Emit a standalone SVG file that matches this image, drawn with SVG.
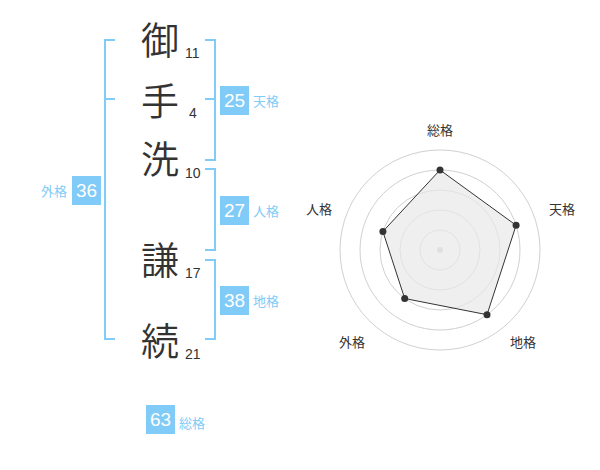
<svg xmlns="http://www.w3.org/2000/svg" width="600" height="470" viewBox="0 0 600 470">
<style>
.kanji{font-family:"Noto Sans CJK JP","Noto Sans CJK SC",sans-serif;font-size:38px;font-weight:350;fill:#333;text-anchor:middle}
.num{font-family:"Liberation Sans",Arial,sans-serif;font-size:14px;fill:#333}
.box{fill:#80cbf7}
.boxt{font-family:"Liberation Sans",Arial,sans-serif;font-size:19px;fill:#fff;text-anchor:middle}
.lab{font-family:"Noto Sans CJK JP",sans-serif;font-size:13px;fill:#80cbf7}
.br{fill:none;stroke:#80cbf7;stroke-width:2}
.grid{fill:none;stroke:#d0d0d0;stroke-width:1}
.rl{font-family:"Noto Sans CJK JP",sans-serif;font-size:13px;fill:#333;text-anchor:middle}
.dot{fill:#333}
</style>
<rect width="600" height="470" fill="#fff"/>
<g id="chars">
<g id="c1"><text class="kanji" x="160" y="54">御</text><text class="num" x="185" y="58">11</text></g>
<g id="c2"><text class="kanji" x="160" y="115">手</text><text class="num" x="189" y="118">4</text></g>
<g id="c3"><text class="kanji" x="160" y="173">洗</text><text class="num" x="185" y="178">10</text></g>
<g id="c4"><text class="kanji" x="160" y="274">謙</text><text class="num" x="185" y="278">17</text></g>
<g id="c5"><text class="kanji" x="160" y="355">続</text><text class="num" x="185" y="359">21</text></g>
</g>
<g id="connectors">
<path class="br" d="M115,40 H105 V339 H115 M105,99 H115"/>
<path class="br" d="M205,40 H215 V160 H205 M205,99 H215"/>
<path class="br" d="M205,169 H215 V250 H205"/>
<path class="br" d="M205,260 H215 V339 H205"/>
</g>
<g id="gaikaku"><rect class="box" x="72" y="176" width="29" height="29"/><text class="boxt" x="86.5" y="197">36</text><text class="lab" x="67" y="196" text-anchor="end">外格</text></g>
<g id="tenkaku"><rect class="box" x="220" y="86" width="29" height="29"/><text class="boxt" x="234.5" y="107">25</text><text class="lab" x="253" y="106">天格</text></g>
<g id="jinkaku"><rect class="box" x="220" y="196" width="29" height="29"/><text class="boxt" x="234.5" y="217">27</text><text class="lab" x="253" y="216">人格</text></g>
<g id="chikaku"><rect class="box" x="220" y="286" width="29" height="29"/><text class="boxt" x="234.5" y="307">38</text><text class="lab" x="253" y="306">地格</text></g>
<g id="soukaku"><rect class="box" x="146" y="405" width="29" height="29"/><text class="boxt" x="160.5" y="426">63</text><text class="lab" x="179" y="428">総格</text></g>
<g id="radar">
<circle class="grid" cx="440" cy="250" r="20"/>
<circle class="grid" cx="440" cy="250" r="40"/>
<circle class="grid" cx="440" cy="250" r="60"/>
<circle class="grid" cx="440" cy="250" r="80"/>
<circle class="grid" cx="440" cy="250" r="100"/>
<circle cx="440" cy="250" r="3" fill="#ccc"/>
<polygon points="440,170 516.1,225.3 487,314.7 404.7,298.5 382.9,231.5" fill="#e8e8e8" fill-opacity="0.7" stroke="#333" stroke-width="1"/>
<circle class="dot" cx="440" cy="170" r="3.5"/>
<circle class="dot" cx="516.1" cy="225.3" r="3.5"/>
<circle class="dot" cx="487" cy="314.7" r="3.5"/>
<circle class="dot" cx="404.7" cy="298.5" r="3.5"/>
<circle class="dot" cx="382.9" cy="231.5" r="3.5"/>
<text class="rl" x="440" y="135">総格</text>
<text class="rl" x="562" y="214">天格</text>
<text class="rl" x="523" y="347">地格</text>
<text class="rl" x="352" y="347">外格</text>
<text class="rl" x="319" y="214">人格</text>
</g>
</svg>
